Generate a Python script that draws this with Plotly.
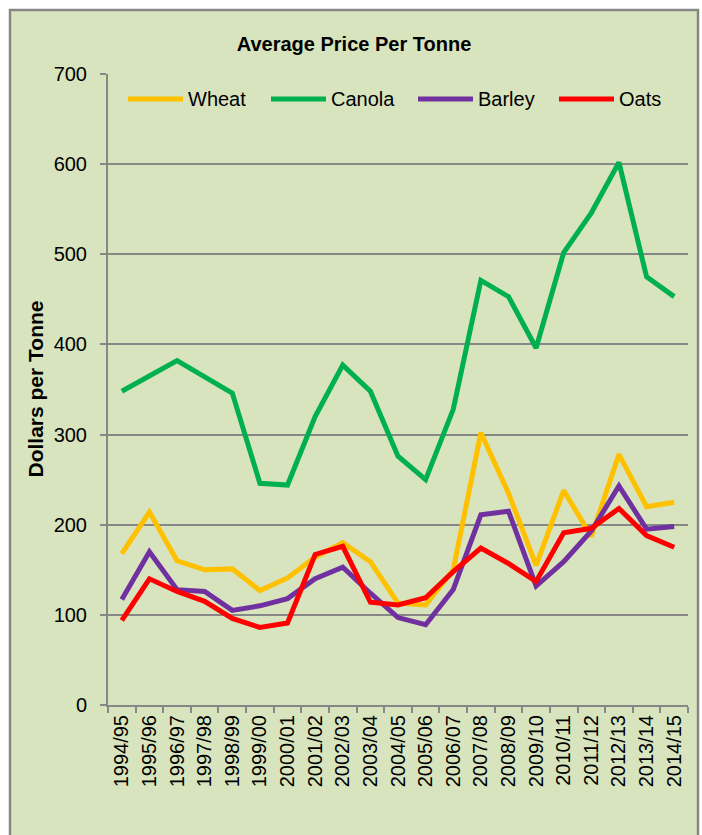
import plotly.graph_objects as go

# Crop seasons and average prices (dollars per tonne)
seasons = ["1994/95", "1995/96", "1996/97", "1997/98", "1998/99", "1999/00",
           "2000/01", "2001/02", "2002/03", "2003/04", "2004/05", "2005/06",
           "2006/07", "2007/08", "2008/09", "2009/10", "2010/11", "2011/12",
           "2012/13", "2013/14", "2014/15"]
wheat = [168, 214, 160, 150, 151, 127, 141, 164, 180, 159, 113, 111,
         150, 302, 235, 155, 238, 187, 278, 220, 225]
canola = [348, 365, 382, 364, 346, 246, 244, 320, 377, 348, 276, 250,
          328, 471, 453, 396, 502, 546, 602, 475, 453]
barley = [117, 170, 128, 126, 105, 110, 118, 140, 153, 124, 97, 89,
          128, 211, 215, 132, 159, 193, 243, 195, 198]
oats = [94, 140, 126, 115, 96, 86, 91, 167, 176, 114, 111, 119,
        148, 174, 157, 137, 191, 196, 218, 188, 175]

series_names = ["Wheat", "Canola", "Barley", "Oats"]
series_values = [wheat, canola, barley, oats]
series_colors = ["#FFC000", "#00B050", "#7030A0", "#FF0000"]

W, H = 702, 835
ML, MR, MT, MB = 108, 14, 74, 130
PW, PH = W - ML - MR, H - MT - MB

FONT = "Liberation Sans, Arial, sans-serif"
GRAY = "#878787"
PANEL = "#D7E4BD"


def px_x(p):
    return (p - ML) / PW


def px_y(p):
    return (H - MB - p) / PH


fig = go.Figure()
for name, vals, col in zip(series_names, series_values, series_colors):
    fig.add_trace(go.Scatter(
        x=seasons, y=vals, name=name, mode="lines",
        line=dict(color=col, width=5),
        showlegend=False,
    ))

shapes = [
    # green chart panel with grey frame
    dict(type="rect", xref="paper", yref="paper", layer="below",
         x0=px_x(10), x1=px_x(698), y0=px_y(10), y1=px_y(850),
         fillcolor=PANEL, line=dict(color=GRAY, width=2.5)),
]
annotations = []

# legend drawn across the top of the plot area
legend_swatch_x = [128, 271, 418, 559]
legend_y = px_y(99)
for name, col, sx in zip(series_names, series_colors, legend_swatch_x):
    shapes.append(dict(type="line", xref="paper", yref="paper",
                       x0=px_x(sx), x1=px_x(sx + 55), y0=legend_y, y1=legend_y,
                       line=dict(color=col, width=5)))
    annotations.append(dict(text=name, xref="paper", yref="paper",
                            x=px_x(sx + 58), y=legend_y, xanchor="left",
                            yanchor="middle", showarrow=False,
                            font=dict(family=FONT, size=20, color="#000000")))

annotations.append(dict(text="Dollars per Tonne", xref="paper", yref="paper",
                        x=px_x(35), y=0.5, textangle=-90, xanchor="center",
                        yanchor="middle", showarrow=False,
                        font=dict(family=FONT, size=21, color="#000000",
                                  weight="bold")))

fig.update_layout(
    width=W, height=H,
    margin=dict(l=ML, r=MR, t=MT, b=MB, pad=0),
    paper_bgcolor="#FFFFFF",
    plot_bgcolor="rgba(0,0,0,0)",
    title=dict(text="Average Price Per Tonne", x=354 / W, xref="container",
               xanchor="center", y=1 - 44 / H, yref="container",
               yanchor="middle",
               font=dict(family=FONT, size=20, color="#000000",
                         weight="bold")),
    shapes=shapes,
    annotations=annotations,
    showlegend=False,
    font=dict(family=FONT, color="#000000"),
)

fig.update_xaxes(
    type="category", range=[-0.5, len(seasons) - 0.5], automargin=False,
    showline=True, linecolor=GRAY, linewidth=2,
    ticks="outside", tickson="boundaries", ticklen=6, tickwidth=2,
    tickcolor=GRAY, tickangle=-90, showgrid=False,
    tickfont=dict(family=FONT, size=20, color="#000000"),
)
fig.update_yaxes(
    range=[0, 700], dtick=100, automargin=False,
    showline=True, linecolor=GRAY, linewidth=2,
    ticks="outside", ticklen=6, tickwidth=2, tickcolor=GRAY,
    ticklabelstandoff=9,
    showgrid=True, gridcolor=GRAY, gridwidth=2, zeroline=False,
    tickfont=dict(family=FONT, size=20, color="#000000"),
)

fig.write_html("out.html")
